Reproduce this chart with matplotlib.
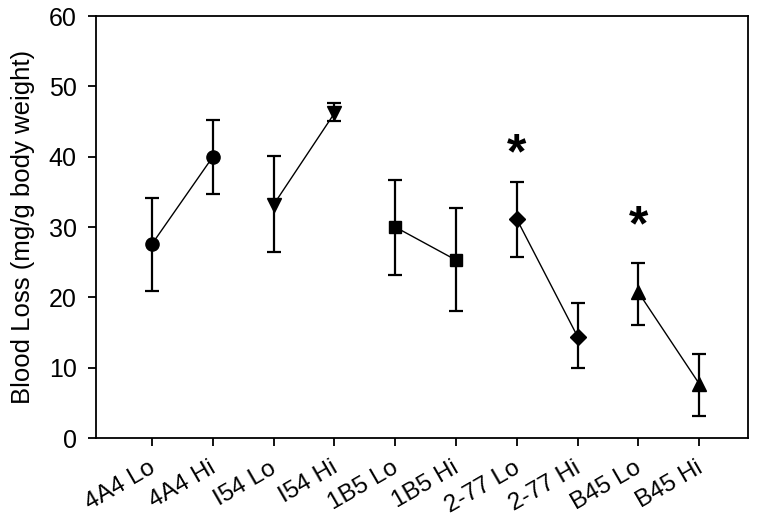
import matplotlib
matplotlib.use("Agg")
import matplotlib.pyplot as plt
import matplotlib.transforms as mtransforms

plt.rcParams['font.family'] = ['Liberation Sans', 'DejaVu Sans']

categories = ["4A4 Lo", "4A4 Hi", "I54 Lo", "I54 Hi", "1B5 Lo", "1B5 Hi",
              "2-77 Lo", "2-77 Hi", "B45 Lo", "B45 Hi"]
means = [27.6, 40.0, 33.2, 46.2, 30.0, 25.3, 31.1, 14.4, 20.7, 7.7]
upper = [34.1, 45.2, 40.1, 47.7, 36.7, 32.7, 36.4, 19.2, 24.9, 12.0]
lower = [20.9, 34.7, 26.5, 45.1, 23.2, 18.1, 25.8, 10.0, 16.1, 3.1]
markers = ["o", "v", "s", "D", "^"]
marker_sizes = [9.5, 10, 9, 8, 10]
significant = [6, 8]
star_y = [42.0, 31.8]

fig = plt.figure(figsize=(7.57, 5.19), dpi=100)
ax = fig.add_axes([0.127, 0.156, 0.861, 0.813])

x = list(range(len(categories)))
for g in range(5):
    i0, i1 = 2 * g, 2 * g + 1
    xs = [x[i0], x[i1]]
    ys = [means[i0], means[i1]]
    ax.plot(xs, ys, color="black", lw=1.0, zorder=2)
    for i in (i0, i1):
        ax.errorbar(x[i], means[i],
                    yerr=[[means[i] - lower[i]], [upper[i] - means[i]]],
                    fmt="none", ecolor="black", elinewidth=1.6, capsize=4.7,
                    capthick=1.6, zorder=3)
    ax.plot(xs, ys, linestyle="none", marker=markers[g], ms=marker_sizes[g],
            color="black", zorder=4)

fs_star = 36
star_tr = ax.transData + mtransforms.ScaledTranslation(
    0, -0.52 * fs_star / 72, fig.dpi_scale_trans)
for idx, sy in zip(significant, star_y):
    ax.text(x[idx], sy, "*", ha="center", va="baseline", fontsize=fs_star,
            fontweight="bold", transform=star_tr)

ax.set_xlim(-0.92, 9.8)
ax.set_ylim(0, 60)
ax.set_yticks(range(0, 61, 10))
ax.set_xticks(x)
ax.set_xticklabels(categories, rotation=30, ha="right", va="center_baseline",
                   rotation_mode="anchor", fontsize=17.5)
ax.tick_params(axis="y", labelsize=18, direction="out", length=6, width=1.3,
               pad=8)
ax.tick_params(axis="x", direction="out", length=6, width=1.3, pad=13)
ax.set_ylabel("Blood Loss (mg/g body weight)", fontsize=18.5, labelpad=10)
for s in ax.spines.values():
    s.set_linewidth(1.3)

fig.savefig("out.png", dpi=100)
